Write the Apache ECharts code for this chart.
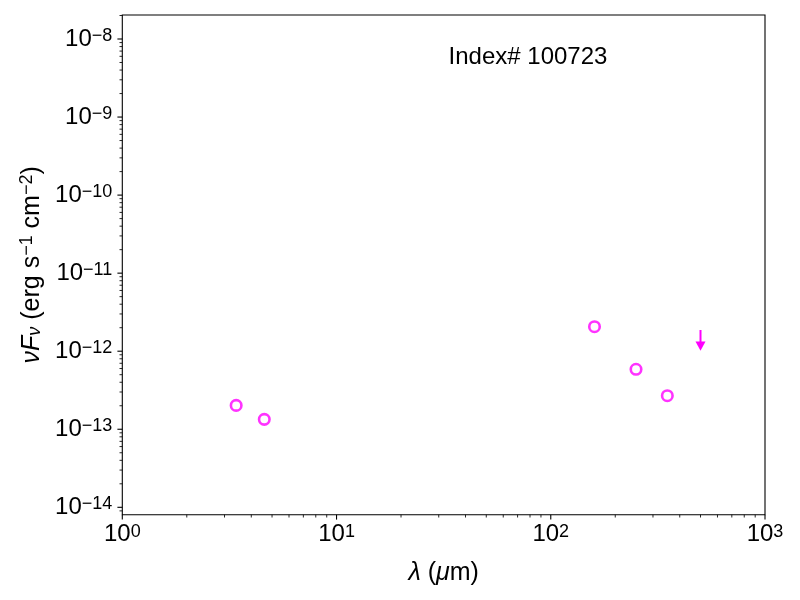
<!DOCTYPE html>
<html>
<head>
<meta charset="utf-8">
<script src="https://cdn.jsdelivr.net/npm/echarts@6/dist/echarts.min.js"></script>
<style>html,body{margin:0;padding:0;background:#fff}#c{width:800px;height:600px}</style>
</head>
<body>
<div id="c"></div>
<script>
// ---- data ----
const detWavelength = [3.4, 4.6, 160, 250, 350];            // micron
const detFlux = [2.02e-13, 1.34e-13, 2.06e-12, 5.86e-13, 2.69e-13]; // erg s^-1 cm^-2
const limWavelength = [500];
const limFlux = [1.87e-12];
const xTickExponents = [0, 1, 2, 3];
const yTickExponents = [-14, -13, -12, -11, -10, -9, -8];
const titleText = 'Index# 100723';

// ---- axis ranges ----
const X_MIN = 1, X_MAX = 1000;
const Y_MIN = 8.04e-15, Y_MAX = 2.03e-8;

const FONT = "'Liberation Sans', Arial, Helvetica, sans-serif";
const MAG = '#ff00ff';

function supLabel(v) {
  const e = Math.log10(v);
  const r = Math.round(e);
  if (Math.abs(e - r) > 1e-6) return '';
  return '{b|10}{s|' + (r < 0 ? '\u2212' : '') + Math.abs(r) + '}';
}
const tickRich = {
  b: { fontSize: 24, lineHeight: 24, verticalAlign: 'bottom', fontFamily: FONT, color: '#000' },
  s: { fontSize: 18, lineHeight: 10, verticalAlign: 'top', fontFamily: FONT, color: '#000' }
};

// tick positions (axis decoration)
const xMajor = xTickExponents.map(e => Math.pow(10, e));
const yMajor = yTickExponents.map(e => Math.pow(10, e));
const xMinor = [], yMinor = [];
for (let k = xTickExponents[0]; k < xTickExponents[xTickExponents.length - 1]; k++)
  for (let m = 2; m <= 9; m++) xMinor.push(m * Math.pow(10, k));
for (let k = yTickExponents[0] - 1; k <= yTickExponents[yTickExponents.length - 1]; k++)
  for (let m = 2; m <= 9; m++) {
    const v = m * Math.pow(10, k);
    if (v >= Y_MIN && v <= Y_MAX) yMinor.push(v);
  }
const xTickData = xMajor.map(v => [v, Y_MIN, 1]).concat(xMinor.map(v => [v, Y_MIN, 0]));
const yTickData = yMajor.map(v => [X_MIN, v, 1]).concat(yMinor.map(v => [X_MIN, v, 0]));

const chart = echarts.init(document.getElementById('c'), null, { renderer: 'canvas' });
chart.setOption({
  animation: false,
  backgroundColor: '#fff',
  grid: { left: 122.3, right: 35, top: 15, bottom: 85.3, show: true, borderColor: '#000', borderWidth: 1.1, backgroundColor: 'transparent' },
  graphic: [{
    type: 'text', x: 528, y: 57, z: 10,
    style: { text: titleText, fontSize: 24, fontFamily: FONT, fill: '#000', textAlign: 'center', textVerticalAlign: 'middle', align: 'center', verticalAlign: 'middle' }
  }],
  xAxis: {
    type: 'log', logBase: 10, min: X_MIN, max: X_MAX,
    axisLine: { show: false }, axisTick: { show: false }, splitLine: { show: false }, minorTick: { show: false },
    axisLabel: { formatter: supLabel, rich: tickRich, margin: 8, showMinLabel: true, showMaxLabel: true },
    name: '{i|\u03bb}{n| (}{i|\u03bc}{n|m)}',
    nameLocation: 'middle', nameGap: 46,
    nameTextStyle: {
      rich: {
        i: { fontSize: 25, fontStyle: 'italic', fontFamily: FONT, color: '#000' },
        n: { fontSize: 25, fontFamily: FONT, color: '#000' }
      }
    }
  },
  yAxis: {
    type: 'log', logBase: 10, min: Y_MIN, max: Y_MAX,
    axisLine: { show: false }, axisTick: { show: false }, splitLine: { show: false }, minorTick: { show: false },
    axisLabel: { formatter: supLabel, rich: tickRich, margin: 10 },
    name: '{i|\u03bdF}{sub|\u03bd}{n| (erg s}{sup|\u22121}{n| cm}{sup|\u22122}{n|)}',
    nameLocation: 'middle', nameRotate: 90, nameGap: 76,
    nameTextStyle: {
      rich: {
        i: { fontSize: 25, lineHeight: 26, verticalAlign: 'bottom', fontStyle: 'italic', fontFamily: FONT, color: '#000' },
        n: { fontSize: 25, lineHeight: 26, verticalAlign: 'bottom', fontFamily: FONT, color: '#000' },
        sup: { fontSize: 18, lineHeight: 12, verticalAlign: 'top', fontFamily: FONT, color: '#000' },
        sub: { fontSize: 18, lineHeight: 15, verticalAlign: 'bottom', fontStyle: 'italic', fontFamily: FONT, color: '#000' }
      }
    }
  },
  series: [
    {
      type: 'custom', silent: true, clip: false, z: 5,
      data: xTickData,
      renderItem: function (params, api) {
        const p = api.coord([api.value(0), api.value(1)]);
        const major = api.value(2) === 1;
        return { type: 'line', shape: { x1: p[0], y1: p[1], x2: p[0], y2: p[1] + (major ? 4.9 : 2.8) },
          style: { stroke: '#000', lineWidth: major ? 1.1 : 0.85 } };
      }
    },
    {
      type: 'custom', silent: true, clip: false, z: 5,
      data: yTickData,
      renderItem: function (params, api) {
        const p = api.coord([api.value(0), api.value(1)]);
        const major = api.value(2) === 1;
        return { type: 'line', shape: { x1: p[0] - (major ? 4.9 : 2.8), y1: p[1], x2: p[0], y2: p[1] },
          style: { stroke: '#000', lineWidth: major ? 1.1 : 0.85 } };
      }
    },
    {
      type: 'scatter', z: 6,
      data: detWavelength.map((x, i) => [x, detFlux[i]]),
      symbol: 'circle', symbolSize: 10.5,
      itemStyle: { color: 'rgba(0,0,0,0)', borderColor: MAG, borderWidth: 2.6 },
      emphasis: { disabled: true }
    },
    {
      type: 'custom', z: 6, silent: true,
      data: limWavelength.map((x, i) => [x, limFlux[i]]),
      renderItem: function (params, api) {
        const p = api.coord([api.value(0), api.value(1)]);
        return {
          type: 'group',
          children: [
            { type: 'line', shape: { x1: p[0], y1: p[1], x2: p[0], y2: p[1] + 13 }, style: { stroke: MAG, lineWidth: 2 } },
            { type: 'polygon', shape: { points: [[p[0] - 5, p[1] + 11.5], [p[0] + 5, p[1] + 11.5], [p[0], p[1] + 20.7]] }, style: { fill: MAG } }
          ]
        };
      }
    }
  ]
});
</script>
</body>
</html>
